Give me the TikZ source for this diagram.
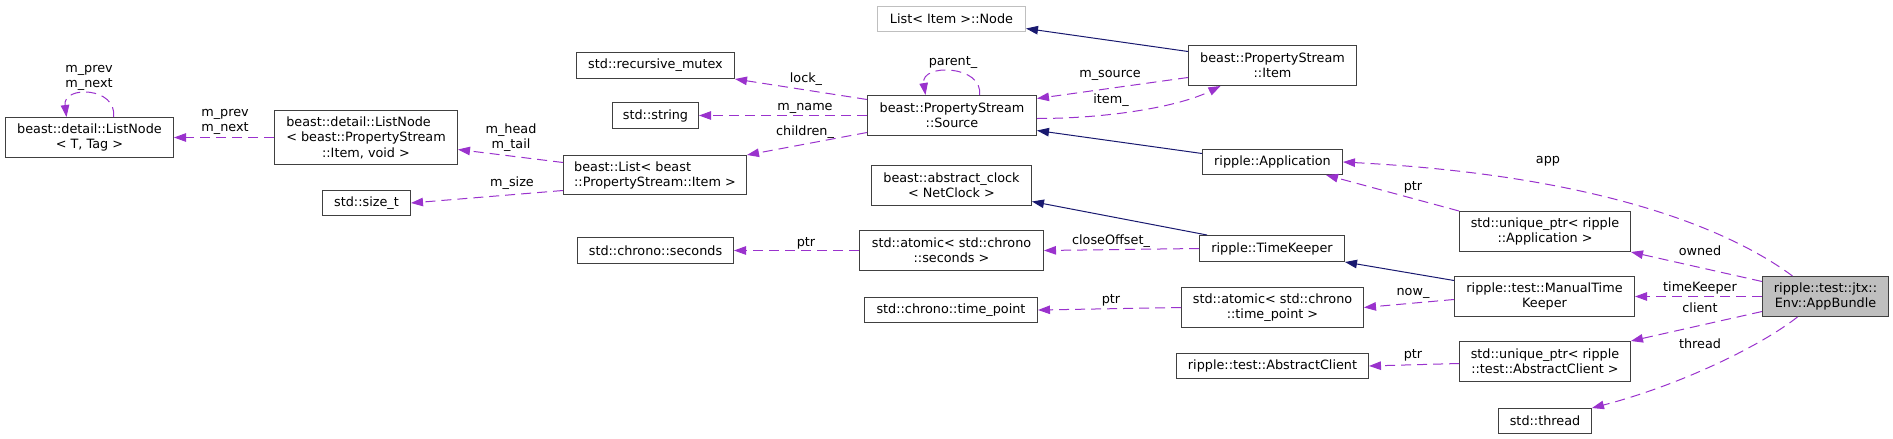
\documentclass[tikz,border=0pt]{standalone}
\usepackage{fontspec}
\setmainfont{DejaVu Sans}
\usetikzlibrary{arrows.meta,calc}
\definecolor{depc}{HTML}{9A32CD}
\definecolor{inhc}{HTML}{191970}
\definecolor{bordc}{HTML}{404040}
\definecolor{ghost}{HTML}{BFBFBF}
\definecolor{selfill}{HTML}{BFBFBF}
\newcommand\dgfont{\fontsize{12.8}{15}\selectfont}
\begin{document}
\begin{tikzpicture}[x=1pt,y=-1pt,
  cls/.style={draw=bordc,line width=1pt,fill=white,inner sep=0pt,align=center,font=\dgfont},
  lbl/.style={inner sep=0pt,align=center,font=\dgfont},
  dep/.style={draw=depc,line width=1pt,dash pattern=on 10pt off 6pt,-{Triangle[length=12pt,width=8.5pt]}},
  inh/.style={draw=inhc,line width=1pt,-{Triangle[length=12pt,width=8.5pt]}}]
\useasboundingbox (0,0) rectangle (1893,439);

% nodes
\node[cls,minimum width=168pt,minimum height=40pt] (LNT) at (89.5,137.5) {beast::detail::ListNode\\< T, Tag >};
\node[cls,minimum width=183pt,minimum height=54pt] (LNP) at (366,137.5) {\begin{tabular}{@{}l@{}}beast::detail::ListNode\\< beast::PropertyStream\end{tabular}\\::Item, void >};
\node[cls,minimum width=158pt,minimum height=26pt] (RM) at (655.5,65.5) {std::recursive\_mutex};
\node[cls,minimum width=86pt,minimum height=26pt] (STR) at (655.5,115.5) {std::string};
\node[cls,align=left,minimum width=183pt,minimum height=39pt] (BL) at (655,175) {beast::List< beast\\::PropertyStream::Item >};
\node[cls,minimum width=88pt,minimum height=25pt] (SZ) at (366.5,203) {std::size\_t};
\node[cls,draw=ghost,minimum width=148pt,minimum height=25pt] (NODE) at (951.5,19) {List< Item >::Node};
\node[cls,minimum width=169pt,minimum height=40pt] (SRC) at (952,115.5) {beast::PropertyStream\\::Source};
\node[cls,minimum width=168pt,minimum height=40pt] (ITEM) at (1272.5,65.5) {beast::PropertyStream\\::Item};
\node[cls,minimum width=140pt,minimum height=25pt] (APP) at (1272.5,162) {ripple::Application};
\node[cls,minimum width=160pt,minimum height=40pt] (AC) at (951.5,185.5) {beast::abstract\_clock\\< NetClock >};
\node[cls,minimum width=156pt,minimum height=26pt] (CS) at (655.5,250.5) {std::chrono::seconds};
\node[cls,minimum width=184pt,minimum height=40pt] (AS) at (951.5,250.5) {std::atomic< std::chrono\\::seconds >};
\node[cls,minimum width=145pt,minimum height=26pt] (TK) at (1272,248.5) {ripple::TimeKeeper};
\node[cls,minimum width=173pt,minimum height=25pt] (CTP) at (951,310) {std::chrono::time\_point};
\node[cls,minimum width=182pt,minimum height=40pt] (ATP) at (1272.5,307.5) {std::atomic< std::chrono\\::time\_point >};
\node[cls,minimum width=192pt,minimum height=25pt] (AC2) at (1272.5,366) {ripple::test::AbstractClient};
\node[cls,minimum width=171pt,minimum height=40pt] (UPA) at (1545,231.5) {std::unique\_ptr< ripple\\::Application >};
\node[cls,minimum width=180pt,minimum height=40pt] (MTK) at (1544.5,296.5) {ripple::test::ManualTime\\Keeper};
\node[cls,minimum width=171pt,minimum height=40pt] (UPC) at (1545,361.5) {std::unique\_ptr< ripple\\::test::AbstractClient >};
\node[cls,minimum width=93pt,minimum height=25pt] (TH) at (1545,421) {std::thread};
\node[cls,fill=selfill,minimum width=126pt,minimum height=40pt] (AB) at (1825.5,296.5) {ripple::test::jtx::\\Env::AppBundle};

% labels
\node[lbl] (Lloop1) at (89,78) {m\_prev\\m\_next};
\node[lbl] (Lpn) at (225,121.5) {m\_prev\\m\_next};
\node[lbl] (Lht) at (511,138) {m\_head\\m\_tail};
\node[lbl] (Lsz) at (512,183) {m\_size};
\node[lbl] (Llock) at (806,79) {lock\_};
\node[lbl] (Lname) at (805,108) {m\_name};
\node[lbl] (Lchild) at (805,132) {children\_};
\node[lbl] (Lpar) at (953,63) {parent\_};
\node[lbl] (Lmsrc) at (1110,75) {m\_source};
\node[lbl] (Litem) at (1111,100) {item\_};
\node[lbl] (Lptr1) at (806,243) {ptr};
\node[lbl] (Lclose) at (1111,241) {closeOffset\_};
\node[lbl] (Lptr2) at (1111,300) {ptr};
\node[lbl] (Lptr3) at (1413,355) {ptr};
\node[lbl] (Lnow) at (1413,293) {now\_};
\node[lbl] (Lptr4) at (1413,187) {ptr};
\node[lbl] (Lapp) at (1548,161) {app};
\node[lbl] (Lowned) at (1700,251) {owned};
\node[lbl] (Ltk) at (1700,288) {timeKeeper};
\node[lbl] (Lclient) at (1700,308) {client};
\node[lbl] (Lthread) at (1700,344) {thread};

% dependency edges
\draw[dep] ($(LNT.north)+(24,0)$) .. controls +(4,-30) and +(-4,-32) .. ($(LNT.north)+(-23,0)$);
\draw[dep] (LNP.west) -- (LNT.east);
\draw[dep] ($(BL.west)+(0,-12.5)$) -- ($(LNP.east)+(0,12)$);
\draw[dep] ($(BL.west)+(0,15.5)$) -- (SZ.east);
\draw[dep] ($(SRC.west)+(0,-16)$) -- (RM.south east);
\draw[dep] (SRC.west) -- (STR.east);
\draw[dep] ($(SRC.west)+(0,17)$) -- (BL.north east);
\draw[dep] ($(SRC.north)+(27.5,0)$) .. controls +(4,-30) and +(-5,-32) .. ($(SRC.north)+(-26.5,0)$);
\draw[dep] ($(ITEM.west)+(0,12)$) -- ($(SRC.east)+(0,-17)$);
\draw[dep] ($(SRC.east)+(0,3)$) .. controls +(74,0) and +(-40,20) .. ($(ITEM.south)+(-52,0)$);
\draw[dep] (AS.west) -- (CS.east);
\draw[dep] (TK.west) -- (AS.east);
\draw[dep] (ATP.west) -- (CTP.east);
\draw[dep] ($(UPC.west)+(0,2)$) -- (AC2.east);
\draw[dep] ($(MTK.west)+(0,3)$) -- (ATP.east);
\draw[dep] (UPA.north west) -- ($(APP.south east)+(-17,0)$);
\draw[dep] ($(AB.north)+(-33,0)$) .. controls +(-62,-46) and +(258,13.5) .. (APP.east);
\draw[dep] ($(AB.west)+(0,-15)$) -- (UPA.south east);
\draw[dep] (AB.west) -- (MTK.east);
\draw[dep] ($(AB.west)+(0,15)$) -- (UPC.north east);
\draw[dep] ($(AB.south)+(-28,0)$) .. controls +(-37,29) and +(88.5,-23) .. (TH.north east);

% inheritance edges
\draw[inh] ($(ITEM.west)+(0,-14)$) -- ($(NODE.east)+(0,9.5)$);
\draw[inh] ($(APP.west)+(0,-8.5)$) -- ($(SRC.east)+(0,15)$);
\draw[inh] ($(TK.north west)+(8,0)$) -- ($(AC.east)+(0,16)$);
\draw[inh] ($(MTK.west)+(0,-16)$) -- (TK.south east);
\end{tikzpicture}
\end{document}
